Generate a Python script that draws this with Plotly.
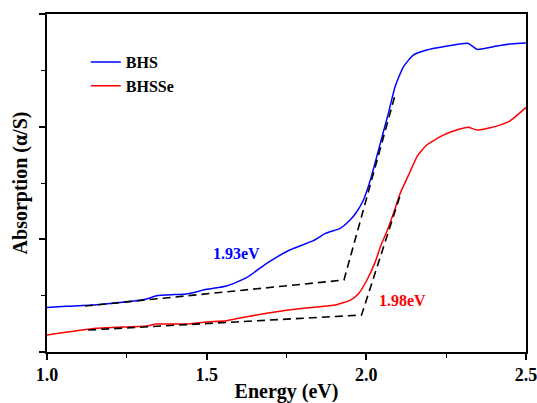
import plotly.graph_objects as go

# ---- data ----
energy_bhs = [1.0, 1.06, 1.155, 1.25, 1.312, 1.343, 1.40, 1.437, 1.5, 1.563, 1.625, 1.688,
              1.76, 1.834, 1.855, 1.87, 1.886, 1.918, 1.949, 1.970, 1.991, 2.006, 2.017, 2.027,
              2.038, 2.069, 2.09, 2.116, 2.147, 2.189, 2.241, 2.319, 2.347, 2.408, 2.45, 2.497, 2.5]
abs_bhs = [0.395, 0.405, 0.42, 0.445, 0.47, 0.50, 0.51, 0.515, 0.556, 0.586, 0.66, 0.787,
           0.905, 0.988, 1.023, 1.05, 1.067, 1.097, 1.171, 1.245, 1.349, 1.467, 1.570, 1.674,
           1.792, 2.118, 2.354, 2.531, 2.635, 2.68, 2.709, 2.739, 2.686, 2.715, 2.733, 2.742, 2.743]

energy_bhsse = [1.0, 1.155, 1.312, 1.343, 1.437, 1.5, 1.563, 1.625, 1.688, 1.75, 1.803, 1.855,
                1.907, 1.95, 1.976, 2.002, 2.028, 2.046, 2.064, 2.085, 2.106, 2.137, 2.160, 2.189,
                2.241, 2.283, 2.319, 2.347, 2.408, 2.45, 2.497, 2.5]
abs_bhsse = [0.151, 0.21, 0.231, 0.248, 0.248, 0.266, 0.278, 0.313, 0.343, 0.37, 0.388, 0.402,
             0.42, 0.461, 0.52, 0.639, 0.80, 0.95, 1.067, 1.231, 1.408, 1.60, 1.74, 1.837,
             1.925, 1.97, 1.994, 1.97, 2.005, 2.052, 2.162, 2.17]

fit_bhs_x = [1.119, 1.930, 2.090]
fit_bhs_y = [0.408, 0.639, 2.28]
fit_bhsse_x = [1.129, 1.985, 2.108]
fit_bhsse_y = [0.195, 0.328, 1.408]

gap_labels = ["1.93eV", "1.98eV"]
gap_pos_x = [1.592, 2.112]
gap_pos_y = [0.87, 0.461]

x_ticks = [1.0, 1.5, 2.0, 2.5]
x_ticklabels = ["1.0", "1.5", "2.0", "2.5"]

FONT = "Times New Roman, Liberation Serif, serif"

fig = go.Figure()
fig.add_trace(go.Scatter(x=energy_bhs, y=abs_bhs, mode="lines", name="<b>BHS</b>",
                         line=dict(color="#0000ff", width=1.5, shape="spline", smoothing=0.5)))
fig.add_trace(go.Scatter(x=energy_bhsse, y=abs_bhsse, mode="lines", name="<b>BHSSe</b>",
                         line=dict(color="#ff0000", width=1.5, shape="spline", smoothing=0.5)))
fig.add_trace(go.Scatter(x=fit_bhs_x, y=fit_bhs_y, mode="lines", showlegend=False,
                         line=dict(color="black", width=1.6, dash="8px,5px")))
fig.add_trace(go.Scatter(x=fit_bhsse_x, y=fit_bhsse_y, mode="lines", showlegend=False,
                         line=dict(color="black", width=1.6, dash="8px,5px")))

colors = ["#0000ff", "#ff0000"]
for t, x, y, c in zip(gap_labels, gap_pos_x, gap_pos_y, colors):
    fig.add_annotation(x=x, y=y, text=f"<b>{t}</b>", showarrow=False,
                       font=dict(family=FONT, size=16, color=c), xanchor="center", yanchor="middle")

fig.update_layout(
    width=537, height=403,
    margin=dict(l=47, r=11, t=14, b=51),
    paper_bgcolor="white", plot_bgcolor="white",
    font=dict(family=FONT, size=16, color="black"),
    legend=dict(x=0.081, y=0.908, xanchor="left", yanchor="top", bgcolor="rgba(0,0,0,0)",
                font=dict(family=FONT, size=16), tracegroupgap=0, itemwidth=30),
)
fig.update_xaxes(range=[1.0, 2.5], tickvals=x_ticks, ticktext=[f"<b>{t}</b>" for t in x_ticklabels],
                 ticks="outside", ticklen=6, tickwidth=1.5, tickcolor="black",
                 minor=dict(dtick=0.25, ticks="outside", ticklen=4, tickwidth=1.2, tickcolor="black"),
                 showline=True, linecolor="black", linewidth=1.5, mirror=True,
                 showgrid=False, zeroline=False, automargin=False, ticklabeloverflow="allow",
                 tickfont=dict(family=FONT, size=18),
                 title=dict(text="<b>Energy (eV)</b>", font=dict(family=FONT, size=20), standoff=5))
fig.update_yaxes(range=[0, 3], dtick=1, showticklabels=False,
                 ticks="outside", ticklen=6, tickwidth=1.5, tickcolor="black",
                 minor=dict(dtick=0.5, ticks="outside", ticklen=4, tickwidth=1.2, tickcolor="black"),
                 showline=True, linecolor="black", linewidth=1.5, mirror=True,
                 showgrid=False, zeroline=False, automargin=False,
                 title=dict(text="<b>Absorption (α/S)</b>", font=dict(family=FONT, size=20), standoff=6))

fig.write_html("out.html", config={"displayModeBar": False},
               post_script="document.body.style.margin='0';document.body.style.overflow='hidden';")
